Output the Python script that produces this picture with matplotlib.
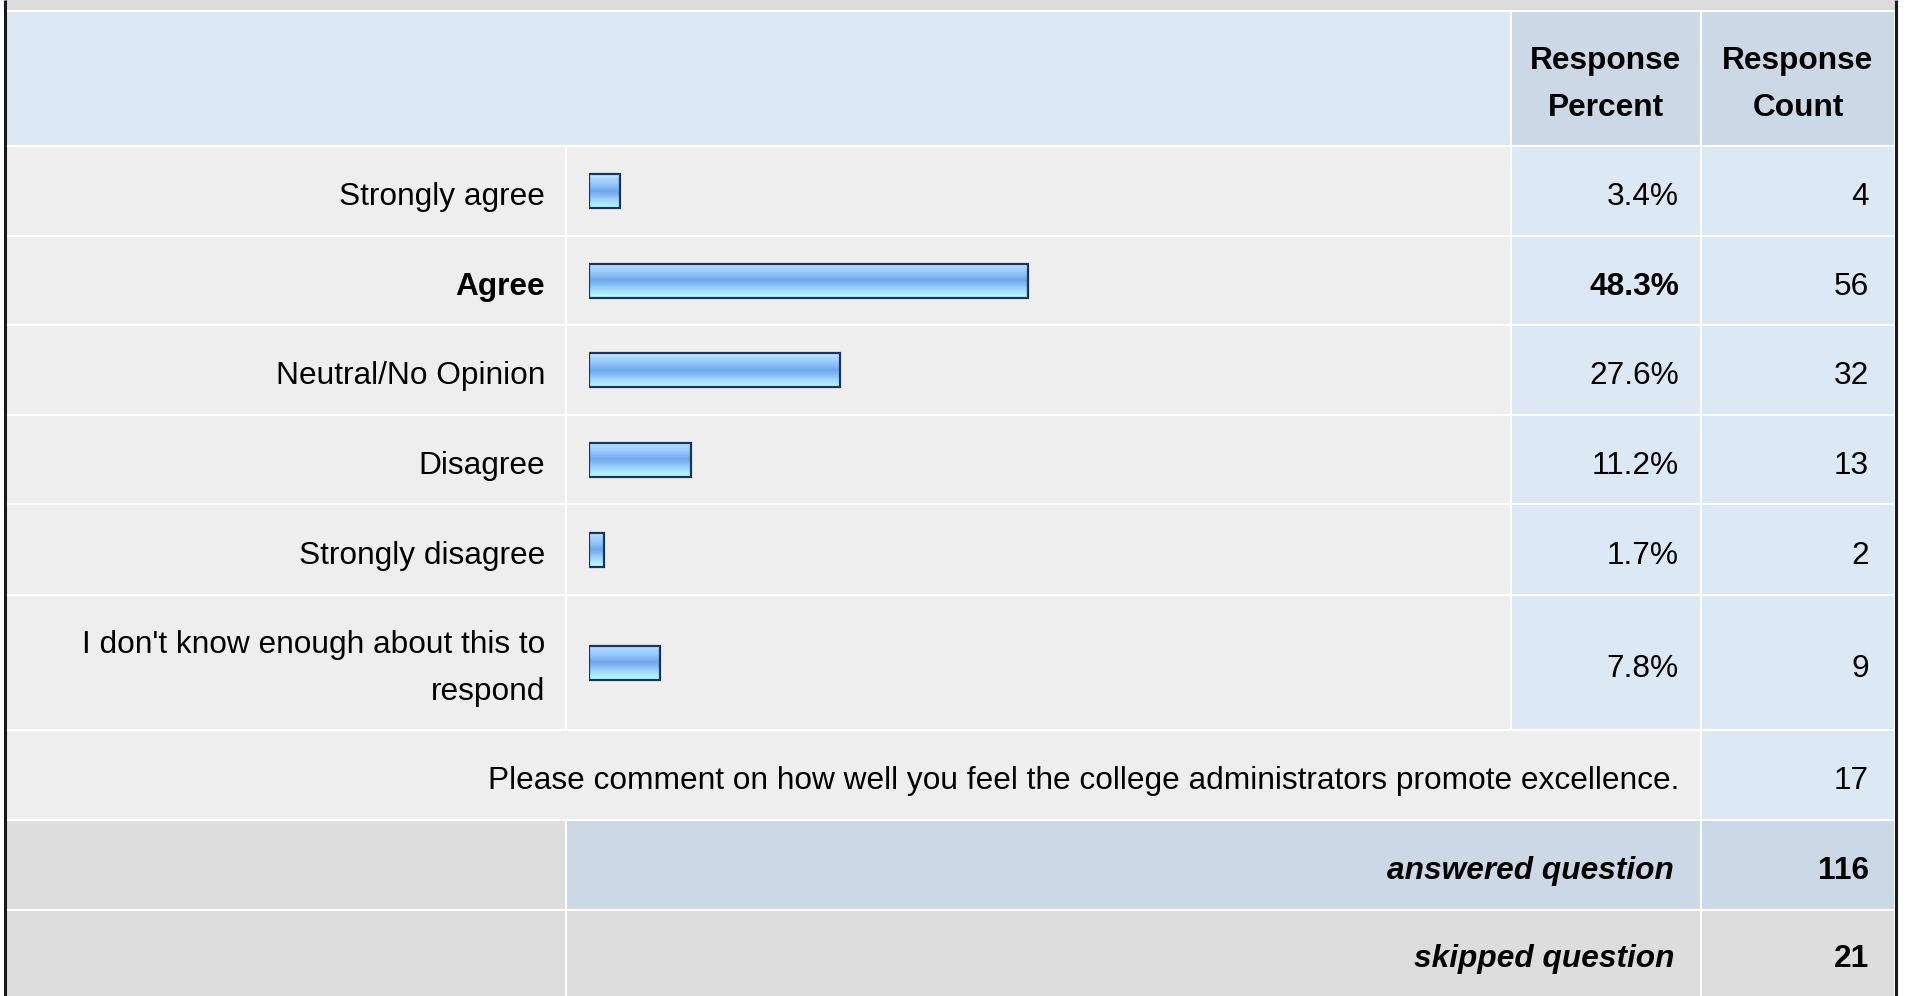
import matplotlib

matplotlib.use("Agg")

import matplotlib.pyplot as plt
import numpy as np
from matplotlib.colors import LinearSegmentedColormap
from matplotlib.patches import Rectangle

# survey data
categories = [
    "Strongly agree",
    "Agree",
    "Neutral/No Opinion",
    "Disagree",
    "Strongly disagree",
    "I don't know enough about this to\nrespond",
]
percents = [3.4, 48.3, 27.6, 11.2, 1.7, 7.8]
counts = [4, 56, 32, 13, 2, 9]
comment_text = "Please comment on how well you feel the college administrators promote excellence."
comment_count = 17
answered = 116
skipped = 21

# layout in pixels (table structure)
W, H = 1907, 996
COLS = [6, 566, 1511, 1701, 1895]
ROWS = [11, 146, 236, 325, 415, 504, 595, 730, 820, 910, 1000]
BAR_LEFT, BAR_FULL = 589, 909  # px where 0% starts, px for 100%

LIGHT_BLUE = "#dde8f5"
HEAD_BLUE = "#ccd8e6"
ROW_GRAY = "#eeeeee"
FOOT_GRAY = "#dddddd"
FONT = "Liberation Sans"
FS = 22.8
DY = 6  # text baseline nudge
LS = 1.72

plt.rcParams["font.family"] = [FONT, "DejaVu Sans"]

fig = plt.figure(figsize=(W / 100, H / 100), dpi=100)
fig.patch.set_facecolor("white")
ax = fig.add_axes([0, 0, 1, 1])
ax.set_xlim(0, W)
ax.set_ylim(H, 0)
ax.axis("off")


def cell(c0, c1, r0, r1, color):
    ax.add_patch(Rectangle((COLS[c0], ROWS[r0]), COLS[c1] - COLS[c0], ROWS[r1] - ROWS[r0],
                           facecolor=color, edgecolor="white", linewidth=1.5, zorder=1))


# top strip
ax.add_patch(Rectangle((COLS[0], 0), COLS[-1] - COLS[0], ROWS[0] - 1,
                       facecolor="#dcdcdc", edgecolor="none", zorder=1))

# header
cell(0, 2, 0, 1, LIGHT_BLUE)
cell(2, 3, 0, 1, HEAD_BLUE)
cell(3, 4, 0, 1, HEAD_BLUE)
hy = (ROWS[0] + ROWS[1]) / 2 + 6
for c in (2, 3):
    ax.text((COLS[c] + COLS[c + 1]) / 2, hy,
            "Response\n" + ("Percent" if c == 2 else "Count"),
            ha="center", va="center", fontsize=FS, fontweight="bold", linespacing=LS, zorder=3)

# answer rows
top_idx = int(np.argmax(percents))
for i, (lab, pct, cnt) in enumerate(zip(categories, percents, counts)):
    r = i + 1
    cell(0, 1, r, r + 1, ROW_GRAY)
    cell(1, 2, r, r + 1, ROW_GRAY)
    cell(2, 3, r, r + 1, LIGHT_BLUE)
    cell(3, 4, r, r + 1, LIGHT_BLUE)
    yc = (ROWS[r] + ROWS[r + 1]) / 2 + DY
    weight = "bold" if i == top_idx else "normal"
    ax.text(COLS[1] - 21, yc, lab, ha="right", va="center", fontsize=FS,
            fontweight=weight, linespacing=LS, zorder=3)
    ax.text(COLS[3] - 22, yc, f"{pct:.1f}%", ha="right", va="center", fontsize=FS,
            fontweight=weight, zorder=3)
    ax.text(COLS[4] - 26, yc, str(cnt), ha="right", va="center", fontsize=FS, zorder=3)

# comment row
cell(0, 3, 7, 8, ROW_GRAY)
cell(3, 4, 7, 8, LIGHT_BLUE)
yc = (ROWS[7] + ROWS[8]) / 2 + DY
ax.text(COLS[3] - 22, yc, comment_text, ha="right", va="center", fontsize=FS, zorder=3)
ax.text(COLS[4] - 26, yc, str(comment_count), ha="right", va="center", fontsize=FS, zorder=3)

# footer rows
cell(0, 1, 8, 9, FOOT_GRAY)
cell(1, 3, 8, 9, HEAD_BLUE)
cell(3, 4, 8, 9, HEAD_BLUE)
cell(0, 1, 9, 10, FOOT_GRAY)
cell(1, 3, 9, 10, FOOT_GRAY)
cell(3, 4, 9, 10, FOOT_GRAY)
for r, lab, val in ((8, "answered question", answered), (9, "skipped question", skipped)):
    yc = (ROWS[r] + min(ROWS[r + 1], H)) / 2 + DY
    ax.text(COLS[3] - 27, yc, lab, ha="right", va="center", fontsize=FS,
            fontweight="bold", fontstyle="italic", zorder=3)
    ax.text(COLS[4] - 26, yc, str(val), ha="right", va="center", fontsize=FS,
            fontweight="bold", zorder=3)

# outer border
for x in (COLS[0] - 1, COLS[-1] + 1):
    ax.plot([x, x], [0, H], color="#1a1a1a", linewidth=2.2, zorder=4, solid_capstyle="butt")

# bars on their own axes: 0..100 percent
bax = fig.add_axes([BAR_LEFT / W, 0, BAR_FULL / W, 1])
bax.set_xlim(0, 100)
bax.set_ylim(H, 0)
bax.axis("off")
bax.patch.set_alpha(0)

centers = [(ROWS[i + 1] + ROWS[i + 2]) / 2 for i in range(len(categories))]
grad_cmap = LinearSegmentedColormap.from_list(
    "bar", ["#d2eaff", "#a9d4ff", "#9acbff", "#86bbf6", "#6fa7eb", "#82b9f6",
            "#9fd2ff", "#a8e6ff", "#b6ffff"])
grad = np.linspace(0, 1, 64).reshape(-1, 1)
bars = bax.barh(centers, percents, height=34, color="none",
                edgecolor="#1c3457", linewidth=1.6, zorder=3)
for b in bars:
    x0, y0, bw, bh = b.get_x(), b.get_y(), b.get_width(), b.get_height()
    im = bax.imshow(grad, cmap=grad_cmap, aspect="auto", zorder=2,
                    extent=(x0, x0 + bw, y0 + bh, y0), interpolation="bilinear")
    im.set_clip_path(b)
bax.set_xlim(0, 100)
bax.set_ylim(H, 0)

fig.savefig("out.png", dpi=100)
